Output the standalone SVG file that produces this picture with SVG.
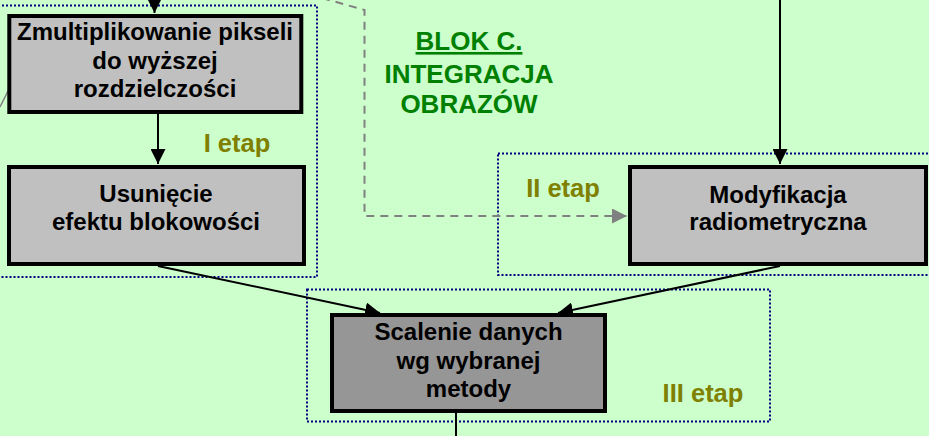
<svg xmlns="http://www.w3.org/2000/svg" width="929" height="436" viewBox="0 0 929 436">
<style>
.bg{fill:#CCFFCC}
.box{stroke:#000;stroke-width:4}
.b1{fill:#C0C0C0}
.b2{fill:#969696}
.frame{fill:none;stroke:#000080;stroke-width:2;stroke-dasharray:2 2}
.t{font-family:"Liberation Sans",Arial,sans-serif;font-weight:bold;font-size:24px;text-anchor:middle;fill:#000}
.lab{font-family:"Liberation Sans",Arial,sans-serif;font-weight:bold;font-size:25.5px;text-anchor:middle;fill:#808000}
.title{font-family:"Liberation Sans",Arial,sans-serif;font-weight:bold;font-size:26px;text-anchor:middle;fill:#008000}
.c{stroke:#000;stroke-width:2;fill:none}
.g{stroke:#808080;stroke-width:2;fill:none;stroke-dasharray:8 6}
</style>
<defs>
<marker id="ab" viewBox="0 0 15 15" refX="15" refY="7.5" markerWidth="15" markerHeight="15" markerUnits="userSpaceOnUse" orient="auto"><path d="M0,0 L15,7.5 L0,15 z" fill="#000"/></marker>
<marker id="ag" viewBox="0 0 15 15" refX="15" refY="7.5" markerWidth="15" markerHeight="15" markerUnits="userSpaceOnUse" orient="auto"><path d="M0,0 L15,7.5 L0,15 z" fill="#808080"/></marker>
</defs>
<rect class="bg" x="0" y="0" width="929" height="436"/>
<g id="frames">
<rect class="frame" x="-10" y="5.5" width="327" height="271.5"/>
<rect class="frame" x="498" y="153.5" width="450" height="121.5"/>
<rect class="frame" x="307" y="289.5" width="463" height="132"/>
</g>
<g id="labels">
<text class="lab" x="237" y="152">I etap</text>
<text class="lab" x="563" y="197">II etap</text>
<text class="lab" x="703" y="401.5">III etap</text>
<text class="title" x="469" y="50" text-decoration="underline">BLOK C.</text>
<text class="title" x="469" y="83">INTEGRACJA</text>
<text class="title" x="469" y="113">OBRAZÓW</text>
</g>
<g id="connectors">
<line class="c" x1="154.5" y1="-5" x2="154.5" y2="13" marker-end="url(#ab)"/>
<line class="c" x1="158" y1="114" x2="158" y2="164" marker-end="url(#ab)"/>
<line class="c" x1="780" y1="-5" x2="780" y2="164" marker-end="url(#ab)"/>
<line class="c" x1="158" y1="266" x2="380" y2="313" marker-end="url(#ab)"/>
<line class="c" x1="780" y1="266" x2="558" y2="313" marker-end="url(#ab)"/>
<line class="c" x1="456" y1="413" x2="456" y2="440"/>
<path class="g" d="M322,-2 L364.5,10 L364.5,216 L627,216" marker-end="url(#ag)"/>
<line stroke="#808080" stroke-width="1.5" x1="0" y1="107" x2="8.5" y2="90"/>
</g>
<g id="n1">
<rect class="box b1" x="9.3" y="16" width="292" height="96"/>
<text class="t" x="155" y="40">Zmultiplikowanie pikseli</text>
<text class="t" x="155" y="68.5">do wyższej</text>
<text class="t" x="155" y="97">rozdzielczości</text>
</g>
<g id="n2">
<rect class="box b1" x="9" y="167" width="295" height="97"/>
<text class="t" x="156" y="202">Usunięcie</text>
<text class="t" x="156" y="230">efektu blokowości</text>
</g>
<g id="n3">
<rect class="box b1" x="630" y="167" width="296" height="97"/>
<text class="t" x="778" y="203">Modyfikacja</text>
<text class="t" x="778" y="230">radiometryczna</text>
</g>
<g id="n4">
<rect class="box b2" x="332" y="315" width="273" height="96"/>
<text class="t" x="468.5" y="340">Scalenie danych</text>
<text class="t" x="468.5" y="368.5">wg wybranej</text>
<text class="t" x="468.5" y="397">metody</text>
</g>
</svg>
